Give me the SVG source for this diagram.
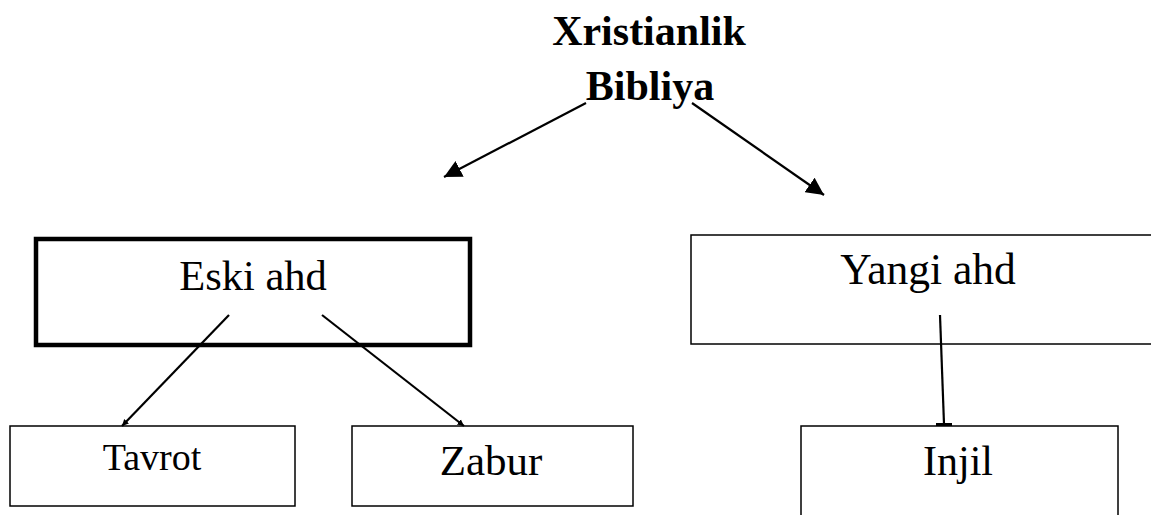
<svg xmlns="http://www.w3.org/2000/svg" width="1151" height="515" viewBox="0 0 1151 515">
<style>
text{font-family:"Liberation Serif","Times New Roman",serif;fill:#000;text-anchor:middle}
.box{fill:#fff;stroke:#000;stroke-width:1.5}
.thick{fill:#fff;stroke:#000;stroke-width:4.5}
.ln{stroke:#000;stroke-width:2.2;fill:none}
</style>
<defs>
<marker id="big" viewBox="0 0 10 10" refX="10" refY="5" markerWidth="8" markerHeight="8" markerUnits="strokeWidth" orient="auto">
<path d="M0,0 L10,5 L0,10 z" fill="#000"/>
</marker>
<marker id="small" viewBox="0 0 10 10" refX="10" refY="5" markerWidth="3" markerHeight="4" markerUnits="strokeWidth" orient="auto">
<path d="M0,0 L10,5 L0,10 z" fill="#000"/>
</marker>
</defs>
<rect width="1151" height="515" fill="#fff"/>
<g id="title">
<text x="649" y="45" font-size="42" font-weight="bold">Xristianlik</text>
<text x="650" y="100" font-size="42" font-weight="bold">Bibliya</text>
</g>
<g id="eski">
<rect class="thick" x="36" y="239" width="434" height="106"/>
<text x="253" y="290" font-size="42.5">Eski ahd</text>
</g>
<g id="yangi">
<rect class="box" x="691" y="235" width="480" height="109"/>
<text x="928" y="284" font-size="43.5">Yangi ahd</text>
</g>
<g id="tavrot">
<rect class="box" x="10" y="426" width="285" height="80"/>
<text x="152" y="470" font-size="38">Tavrot</text>
</g>
<g id="zabur">
<rect class="box" x="352" y="426" width="281" height="80"/>
<text x="491" y="475" font-size="43">Zabur</text>
</g>
<g id="injil">
<rect class="box" x="801" y="426" width="317" height="110"/>
<text x="958" y="475" font-size="42">Injil</text>
</g>
<g id="connectors">
<line class="ln" x1="586" y1="103" x2="444" y2="177" marker-end="url(#big)"/>
<line class="ln" x1="692" y1="103" x2="824" y2="195" marker-end="url(#big)"/>
<line class="ln" x1="229" y1="315" x2="122" y2="426" marker-end="url(#small)"/>
<line class="ln" x1="322" y1="315" x2="464" y2="426" marker-end="url(#small)"/>
<line class="ln" x1="940" y1="315" x2="944" y2="424"/>
<rect x="936" y="423" width="16" height="3" fill="#000"/>
</g>
</svg>
